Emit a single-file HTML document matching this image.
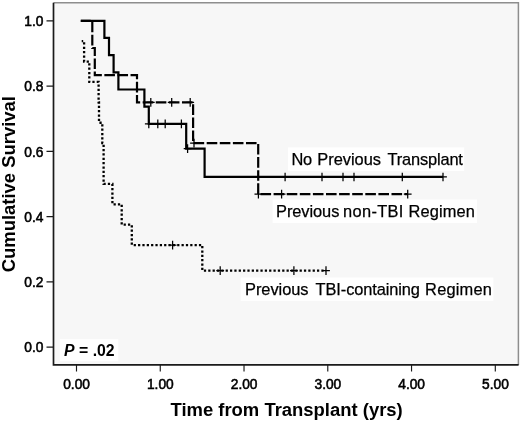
<!DOCTYPE html>
<html lang="en"><head><meta charset="utf-8"><title>Cumulative Survival</title>
<style>html,body{margin:0;padding:0;background:#fff}body{width:520px;height:421px;overflow:hidden}</style></head>
<body>
<svg width="520" height="421" viewBox="0 0 520 421" style="display:block">
<rect x="0" y="0" width="520" height="421" fill="#ffffff"/>
<rect x="53.5" y="2.7" width="464.9" height="362.2" fill="#f7f7f7"/>
<path d="M53.5,2.7H518.4V364.9" fill="none" stroke="#8e8e8e" stroke-width="1.5"/>
<rect x="287.9" y="147.4" width="176.3" height="23.7" fill="#ffffff"/>
<rect x="272.6" y="199.5" width="204.5" height="23.6" fill="#ffffff"/>
<rect x="240.6" y="277.5" width="252.8" height="23.3" fill="#ffffff"/>
<rect x="59.8" y="339.2" width="58.5" height="22" fill="#ffffff"/>
<path d="M53.5,2.7V364.9H518.6" fill="none" stroke="#1a1a1a" stroke-width="1.7"/>
<path d="M46.5,20.80H53.5M46.5,86.05H53.5M46.5,151.30H53.5M46.5,216.55H53.5M46.5,281.80H53.5M46.5,347.05H53.5M76.50,364.9V371.6M160.26,364.9V371.6M244.02,364.9V371.6M327.78,364.9V371.6M411.54,364.9V371.6M495.30,364.9V371.6" fill="none" stroke="#1a1a1a" stroke-width="1.15"/>
<g font-family="'Liberation Sans', Arial, sans-serif" font-size="13.75" fill="#000" stroke="#000" stroke-width="0.55">
<text x="43.4" y="26.10" text-anchor="end">1.0</text>
<text x="43.4" y="91.35" text-anchor="end">0.8</text>
<text x="43.4" y="156.60" text-anchor="end">0.6</text>
<text x="43.4" y="221.85" text-anchor="end">0.4</text>
<text x="43.4" y="287.10" text-anchor="end">0.2</text>
<text x="43.4" y="352.35" text-anchor="end">0.0</text>
<text x="76.60" y="389.2" text-anchor="middle">0.00</text>
<text x="160.36" y="389.2" text-anchor="middle">1.00</text>
<text x="244.12" y="389.2" text-anchor="middle">2.00</text>
<text x="327.88" y="389.2" text-anchor="middle">3.00</text>
<text x="411.64" y="389.2" text-anchor="middle">4.00</text>
<text x="495.40" y="389.2" text-anchor="middle">5.00</text>
</g>
<g font-family="'Liberation Sans', Arial, sans-serif" font-weight="bold" font-size="18.45" fill="#000">
<text x="286.6" y="415.8" text-anchor="middle">Time from Transplant (yrs)</text>
<text transform="translate(14.6,272.3) rotate(-90)">Cumulative Survival</text>
</g>
<g font-family="'Liberation Sans', Arial, sans-serif" font-size="16.4" fill="#000" stroke="#000" stroke-width="0.25">
<text x="291.40" y="164.6" letter-spacing="-0.200">No</text>
<text x="317.30" y="164.6" letter-spacing="-0.014">Previous</text>
<text x="387.40" y="164.6" letter-spacing="-0.144">Transplant</text>
<text x="276.00" y="216.6" letter-spacing="-0.057">Previous</text>
<text x="343.10" y="216.6" letter-spacing="0.317">non-TBI</text>
<text x="408.60" y="216.6" letter-spacing="0.133">Regimen</text>
<text x="245.00" y="295" letter-spacing="-0.043">Previous</text>
<text x="315.60" y="295" letter-spacing="-0.100">TBI-containing</text>
<text x="425.10" y="295" letter-spacing="0.200">Regimen</text>
</g>
<text x="64.1" y="355.9" font-family="'Liberation Sans', Arial, sans-serif" font-weight="bold" font-size="15.8" fill="#000"><tspan font-style="italic">P</tspan> = .02</text>
<path d="M81.70,41.19 L84.10,41.19 L84.10,61.58 L89.30,61.58 L89.30,81.97 L98.60,81.97 L98.60,102.36 L99.00,102.36 L99.00,122.75 L102.30,122.75 L102.30,143.14 L103.60,143.14 L103.60,183.93 L112.40,183.93 L112.40,204.32 L121.70,204.32 L121.70,224.71 L131.80,224.71 L131.80,245.10 L202.30,245.10 L202.30,270.59 L326.00,270.59" fill="none" stroke="#000" stroke-width="2.3" stroke-dasharray="2.25 2.1" stroke-dashoffset="-3.58" stroke-linejoin="miter"/>
<path d="M80.80,20.80 L92.30,20.80 L92.30,47.99 L94.80,47.99 L94.80,75.17 L137.00,75.17 L137.00,102.36 L193.10,102.36 L193.10,143.14 L258.20,143.14 L258.20,194.12 L407.70,194.12" fill="none" stroke="#000" stroke-width="2.2" stroke-dasharray="10.6 2.5" stroke-dashoffset="-12.42" stroke-linejoin="miter"/>
<path d="M80.80,20.80 L104.40,20.80 L104.40,37.97 L109.00,37.97 L109.00,55.14 L113.60,55.14 L113.60,72.31 L118.40,72.31 L118.40,89.48 L144.40,89.48 L144.40,106.66 L148.80,106.66 L148.80,123.83 L186.20,123.83 L186.20,148.63 L204.60,148.63 L204.60,176.97 L443.00,176.97" fill="none" stroke="#000" stroke-width="2.2" stroke-linejoin="miter"/>
<path d="M144.90,123.83H152.70M148.80,119.53V128.13M153.90,123.83H161.70M157.80,119.53V128.13M161.30,123.83H169.10M165.20,119.53V128.13M177.50,123.83H185.30M181.40,119.53V128.13M183.70,148.63H191.50M187.60,144.33V152.93M281.20,176.97H289.00M285.10,172.67V181.27M318.10,176.97H325.90M322.00,172.67V181.27M339.10,176.97H346.90M343.00,172.67V181.27M350.10,176.97H357.90M354.00,172.67V181.27M398.40,176.97H406.20M402.30,172.67V181.27M439.10,176.97H446.90M443.00,172.67V181.27M146.90,102.36H154.70M150.80,98.06V106.66M167.80,102.36H175.60M171.70,98.06V106.66M186.30,102.36H194.10M190.20,98.06V106.66M190.10,143.14H197.90M194.00,138.84V147.44M254.50,194.12H262.30M258.40,189.82V198.42M277.70,194.12H285.50M281.60,189.82V198.42M403.80,194.12H411.60M407.70,189.82V198.42M168.70,245.10H176.50M172.60,240.80V249.40M216.30,270.59H224.10M220.20,266.29V274.89M290.00,270.59H297.80M293.90,266.29V274.89M322.10,270.59H329.90M326.00,266.29V274.89" fill="none" stroke="#000" stroke-width="1.25"/>
</svg>
</body></html>
